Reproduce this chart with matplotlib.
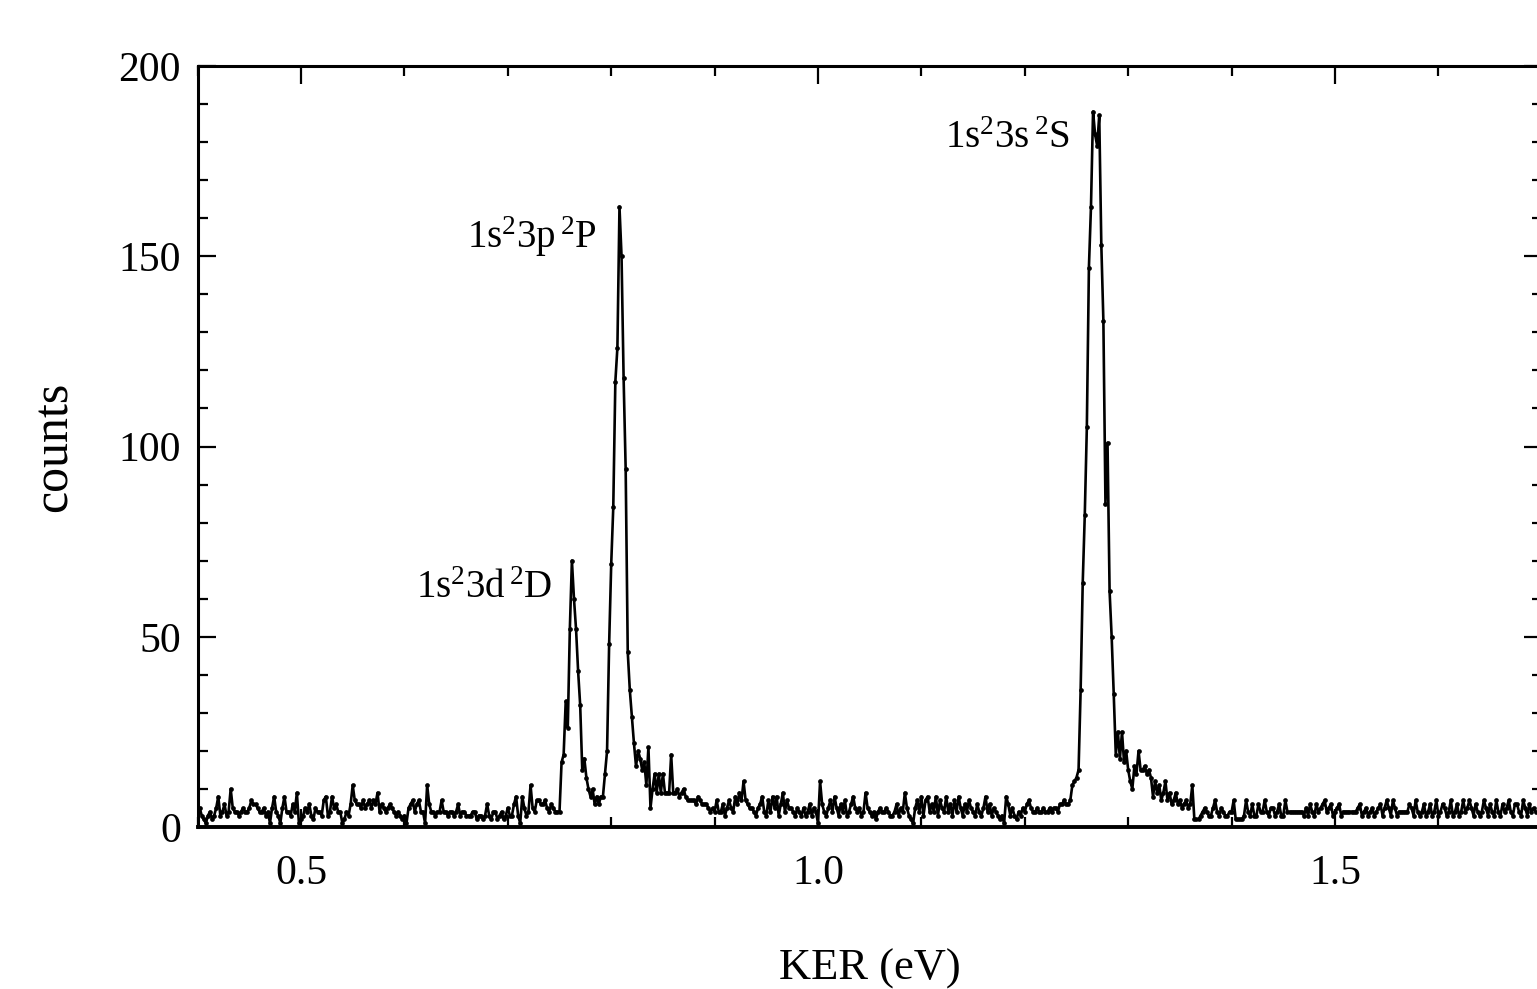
import numpy as np
import matplotlib
matplotlib.use('Agg')
import matplotlib.pyplot as plt
from matplotlib.ticker import MultipleLocator

plt.rcParams['font.family'] = 'Liberation Serif'
plt.rcParams['mathtext.fontset'] = 'custom'
plt.rcParams['mathtext.rm'] = 'Liberation Serif'
plt.rcParams['mathtext.it'] = 'Liberation Serif:italic'
plt.rcParams['mathtext.default'] = 'rm'

# KER bins: start 0.400 eV, width 0.002 eV
ker_start = 0.400
ker_step = 0.002

# counts per bin
counts_left = [
    5, 5, 3, 2, 1, 3, 4, 2, 3, 5,
    8, 3, 4, 6, 3, 4, 10, 5, 4, 4,
    3, 4, 5, 4, 4, 5, 7, 6, 6, 5,
    4, 4, 5, 3, 4, 1, 5, 8, 4, 3,
    1, 5, 8, 4, 4, 3, 6, 4, 9, 1,
    2, 3, 5, 4, 6, 3, 2, 5, 4, 4,
    3, 7, 8, 3, 4, 8, 5, 6, 4, 4,
    1, 2, 4, 3, 6, 11, 7, 6, 6, 5,
    7, 5, 6, 7, 5, 7, 6, 9, 4, 6,
    5, 4, 5, 6, 5, 4, 3, 4, 3, 2,
    3, 1, 5, 6, 7, 4, 6, 7, 4, 4,
    1, 11, 6, 4, 4, 3, 4, 4, 7, 4,
    4, 3, 4, 4, 3, 4, 6, 3, 4, 4,
    3, 3, 3, 4, 4, 2, 3, 3, 2, 3,
    6, 3, 2, 4, 4, 2, 3, 4, 2, 3,
    5, 3, 3, 6, 8, 3, 1, 8, 5, 3,
    4, 11, 5, 4, 7, 7, 6, 6, 7, 5,
    4, 6, 5, 4, 4]

counts_3d3p = [
    4, 17, 19, 33, 26, 52, 70, 60, 52, 41,
    32, 15, 18, 13, 10, 8, 10, 6, 8, 6,
    8, 8, 14, 20, 48, 69, 84, 117, 126, 163,
    150, 118, 94, 46, 36, 29, 22]

counts_mid = [
    16, 20, 18, 15, 17, 11, 21, 5, 10, 14,
    9, 14, 9, 14, 9, 9, 9, 19, 9, 9,
    10, 8, 9, 10, 8, 7, 7, 7, 7, 6,
    8, 7, 6, 6, 6, 5, 4, 5, 4, 7,
    4, 4, 6, 3, 5, 7, 5, 4, 8, 6,
    9, 7, 12, 7, 6, 5, 5, 4, 3, 5,
    6, 8, 4, 3, 7, 4, 8, 5, 8, 3,
    6, 9, 4, 7, 5, 5, 4, 3, 5, 4,
    3, 5, 3, 4, 6, 3, 5, 4, 1, 12,
    6, 4, 3, 5, 7, 4, 8, 5, 3, 6,
    4, 7, 3, 4, 6, 8, 5, 4, 5, 3,
    4, 9, 5, 4, 3, 4, 2, 4, 5, 4,
    4, 5, 4, 3, 3, 4, 6, 3, 5, 4,
    9, 5, 3, 2, 1, 5, 7, 4, 8, 3,
    7, 8, 4, 6, 4, 8, 3, 7, 5, 4,
    8, 4, 6, 3, 7, 4, 8, 5, 3, 6,
    4, 7, 5, 4, 3, 6, 4, 3, 5, 8,
    4, 6, 3, 5, 4, 3, 2, 3, 1, 8,
    6, 3, 5, 3, 2, 4, 3, 5, 4, 6,
    7, 5, 4, 4, 5, 4, 4, 5, 4, 4,
    5, 4, 5, 5, 4, 6, 6, 7, 6]

counts_3s = [
    6, 7, 11, 12, 13, 15, 36, 64, 82, 105,
    147, 163, 188, 182, 179, 187, 153, 133, 85, 101,
    62, 50, 35, 19, 25]

counts_right = [
    18, 25, 17, 20, 15, 12, 10, 16, 14, 20,
    15, 15, 16, 14, 15, 13, 8, 12, 9, 11,
    7, 9, 12, 7, 9, 6, 7, 9, 6, 7,
    5, 6, 7, 5, 6, 11, 2, 2, 2, 3,
    4, 5, 4, 3, 3, 5, 7, 4, 3, 5,
    4, 3, 3, 4, 4, 7, 2, 2, 2, 2,
    3, 7, 4, 3, 6, 3, 3, 6, 4, 4,
    7, 4, 3, 5, 5, 3, 4, 6, 3, 3,
    7, 4, 4, 4, 4, 4, 4, 4, 4, 3,
    5, 3, 6, 4, 3, 6, 4, 5, 6, 7,
    4, 5, 6, 3, 4, 5, 6, 3, 4, 4,
    4, 4, 4, 4, 4, 5, 6, 3, 4, 5,
    3, 4, 5, 3, 4, 5, 6, 3, 5, 7,
    5, 3, 7, 5, 3, 4, 4, 4, 4, 4,
    6, 5, 3, 7, 4, 3, 4, 6, 3, 4,
    6, 3, 4, 7, 3, 4, 6, 5, 3, 4,
    7, 3, 4, 6, 3, 4, 7, 4, 5, 7,
    5, 3, 6, 4, 3, 4, 7, 5, 3, 6,
    4, 3, 7, 4, 3, 6, 4, 5, 7, 4,
    3, 6, 6, 4, 3, 7, 5, 3, 6, 4,
    5, 4]

state_labels = [r'1s$^2$3d$\,^2$D', r'1s$^2$3p$\,^2$P', r'1s$^2$3s$\,^2$S']
label_x = [0.7427, 0.786, 1.2437]
label_y = [60.2, 152.2, 178.5]

counts = np.array(counts_left + counts_3d3p + counts_mid + counts_3s + counts_right)
ker = ker_start + ker_step * np.arange(len(counts))

fig = plt.figure(figsize=(15.37, 9.89), dpi=100)
ax = fig.add_axes([197.6 / 1537, 1 - 827 / 989, 1344.2 / 1537, 761 / 989])

ax.plot(ker, counts, '-', color='black', lw=1.9, marker='o', ms=3.4, mew=0)

for txt, tx, ty in zip(state_labels, label_x, label_y):
    ax.text(tx, ty, txt, ha='right', va='baseline', fontsize=28)

ax.set_xlim(0.4, 1.7)
ax.set_ylim(0, 200)
ax.set_xticks([0.5, 1.0, 1.5])
ax.set_xticklabels(['0.5', '1.0', '1.5'])
ax.set_yticks([0, 50, 100, 150, 200])
ax.xaxis.set_minor_locator(MultipleLocator(0.1))
ax.yaxis.set_minor_locator(MultipleLocator(10))

ax.tick_params(which='both', direction='in', top=True, right=True, width=1.6, labelsize=30)
ax.tick_params(which='major', length=13)
ax.tick_params(which='minor', length=7)
ax.tick_params(axis='x', which='major', pad=20)
ax.tick_params(axis='y', which='major', pad=12)

for sp in ax.spines.values():
    sp.set_linewidth(2.2)
ax.spines['bottom'].set_linewidth(2.8)

ax.set_xlabel('KER (eV)', fontsize=32)
ax.set_ylabel('counts', fontsize=36)
ax.xaxis.set_label_coords(0.5, -0.16)
ax.yaxis.set_label_coords(-0.089, 0.5)

fig.savefig('out.png', dpi=100)
